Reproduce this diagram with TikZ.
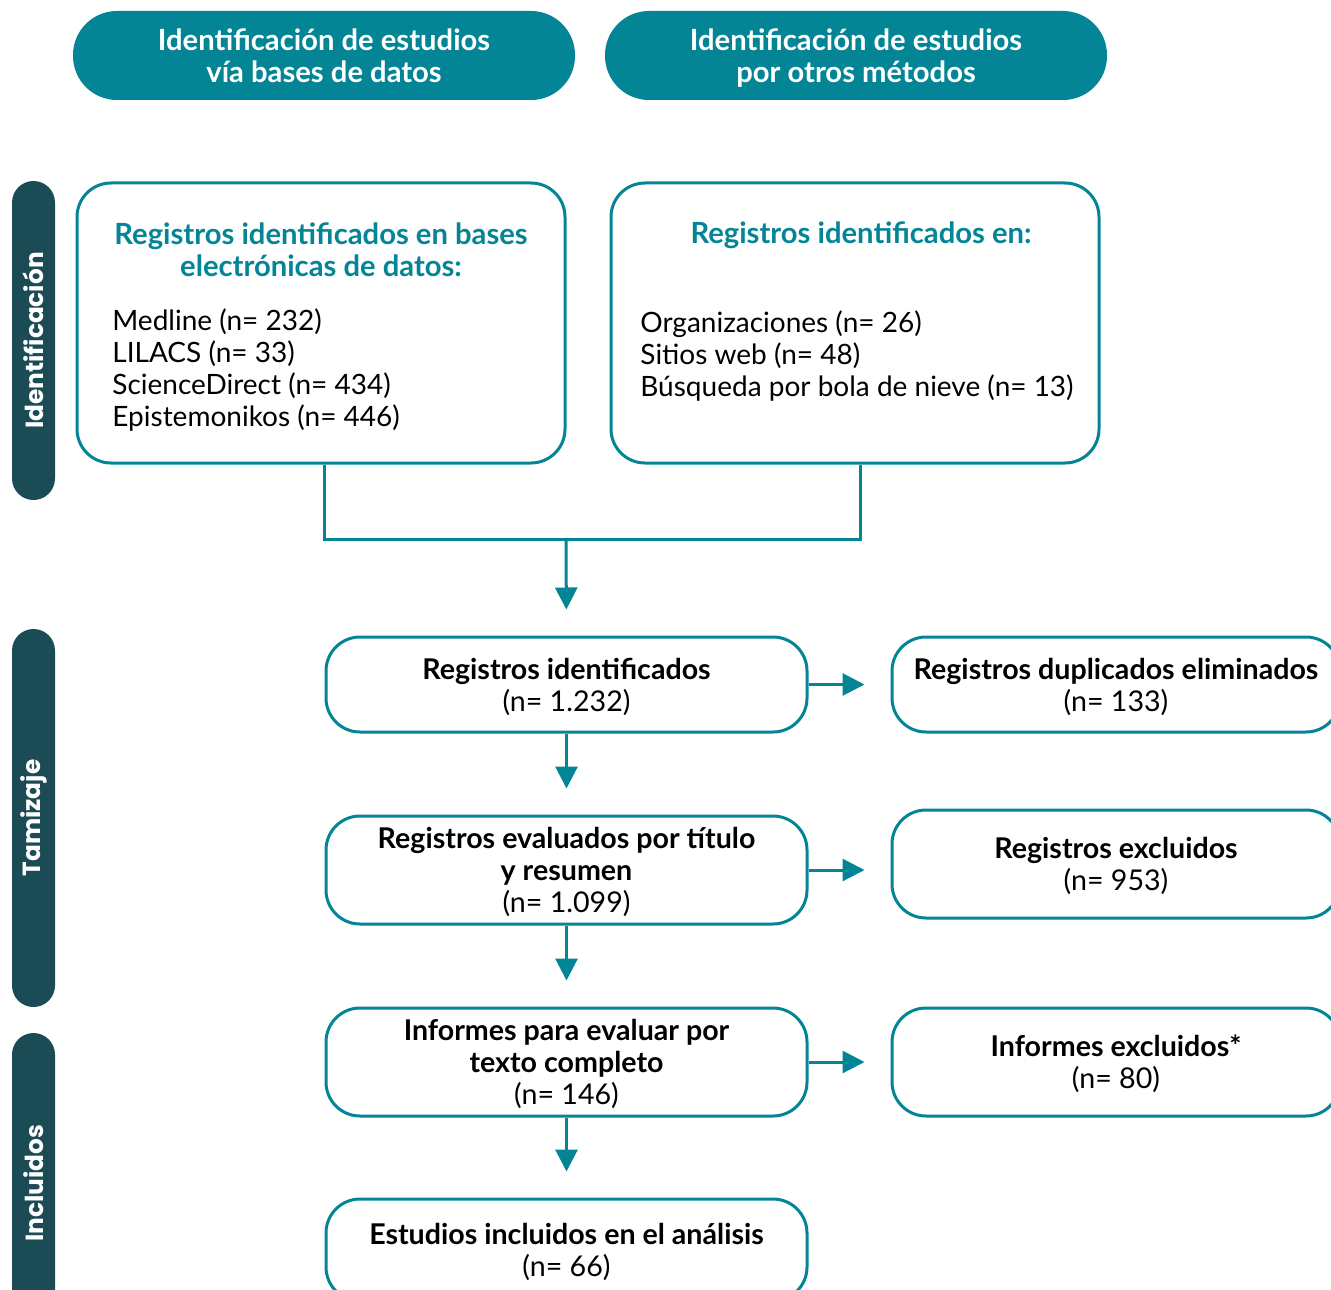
\documentclass[tikz,border=0pt]{standalone}
\usepackage{fontspec}
\setmainfont{Lato}
\newfontfamily\sidefont{Poppins}
\usetikzlibrary{arrows.meta}

\definecolor{prismateal}{RGB}{3,133,150}
\definecolor{prismaslate}{RGB}{27,76,86}

\tikzset{
    box/.style={draw=prismateal, line width=1.5pt, rounded corners=17pt, fill=white,
        align=center, inner sep=0pt, text depth=-2pt, font=\fontsize{14.3}{16}\selectfont},
    pill/.style={fill=prismateal, rounded corners=22pt, text=white, align=center, text depth=0pt,
        minimum width=251pt, minimum height=44.5pt, font=\bfseries\fontsize{14.6}{16}\selectfont},
    sidebar/.style={fill=prismaslate, rounded corners=10.75pt, text=white, rotate=90,
        minimum height=21.5pt, font=\sidefont\bfseries\fontsize{12.4}{14}\selectfont},
    link/.style={draw=prismateal, line width=1.5pt},
    flow/.style={link, -{Triangle[length=11pt,width=11pt]}, shorten >=13pt},
}

\begin{document}
\begin{tikzpicture}[x=0.5pt, y=-0.5pt]
    \useasboundingbox (0,0) rectangle (1331,1289);
    \clip (0,0) rectangle (1331,1289);

    % Column headers
    \node[pill] (hdb) at (324,55.5) {Identificación de estudios\\vía bases de datos};
    \node[pill] (hot) at (856,55.5) {Identificación de estudios\\por otros métodos};

    % Phase bars
    \node[sidebar, minimum width=159.5pt] (pid) at (33.5,340.5) {Identificación};
    \node[sidebar, minimum width=189pt] (ptz) at (33.5,818) {Tamizaje};
    \node[sidebar, minimum width=150pt] (pin) at (33.5,1183) {Incluidos};

    % Identification boxes
    \node[box, minimum width=244pt, minimum height=140pt] (dbs) at (321,323) {};
    \node[align=center, text=prismateal, font=\bfseries\fontsize{14.6}{16}\selectfont] (dbt) at (321,250)
        {Registros identificados en bases\\electrónicas de datos:};
    \node[anchor=west, align=left, inner sep=0pt, font=\fontsize{14}{16}\selectfont] (dbl) at (112,370)
        {Medline (n= 232)\\LILACS (n= 33)\\ScienceDirect (n= 434)\\Epistemonikos (n= 446)};

    \node[box, minimum width=244pt, minimum height=140pt] (oth) at (855,323) {};
    \node[text=prismateal, font=\bfseries\fontsize{14.6}{16}\selectfont] (otht) at (861,235)
        {Registros identificados en:};
    \node[anchor=west, align=left, inner sep=0pt, font=\fontsize{14}{16}\selectfont] (othl) at (640,356)
        {Organizaciones (n= 26)\\Sitios web (n= 48)\\Búsqueda por bola de nieve (n= 13)};

    % Screening
    \node[box, minimum width=240.5pt, minimum height=47.5pt] (ide) at (566.5,684.5)
        {\textbf{Registros identificados}\\(n= 1.232)};
    \node[box, minimum width=224pt, minimum height=47.5pt] (dup) at (1116,684.5)
        {\textbf{Registros duplicados eliminados}\\(n= 133)};
    \node[box, minimum width=240.5pt, minimum height=54pt] (tit) at (566.5,870)
        {\textbf{Registros evaluados por título}\\\textbf{y resumen}\\(n= 1.099)};
    \node[box, minimum width=224pt, minimum height=54pt] (exc) at (1116,864)
        {\textbf{Registros excluidos}\\(n= 953)};
    \node[box, minimum width=240.5pt, minimum height=54pt] (ful) at (566.5,1062)
        {\textbf{Informes para evaluar por}\\\textbf{texto completo}\\(n= 146)};
    \node[box, minimum width=224pt, minimum height=54pt] (rex) at (1116,1062)
        {\textbf{Informes excluidos*}\\(n= 80)};

    % Included
    \node[box, minimum width=240.5pt, minimum height=51pt] (inc) at (566.5,1250)
        {\textbf{Estudios incluidos en el análisis}\\(n= 66)};

    % Connectors
    \coordinate (merge) at (566,539);
    \draw[link] ([xshift=1.5pt]dbs.south) |- (merge) -| ([xshift=2.5pt]oth.south);
    \draw[flow] (merge) -- (ide.north);
    \draw[flow] (ide.east) -- (ide.east -| dup.west);
    \draw[flow] (ide.south) -- (tit.north);
    \draw[flow] (tit.east) -- (tit.east -| exc.west);
    \draw[flow] (tit.south) -- (ful.north);
    \draw[flow] (ful.east) -- (ful.east -| rex.west);
    \draw[flow] (ful.south) -- (inc.north);
\end{tikzpicture}
\end{document}
